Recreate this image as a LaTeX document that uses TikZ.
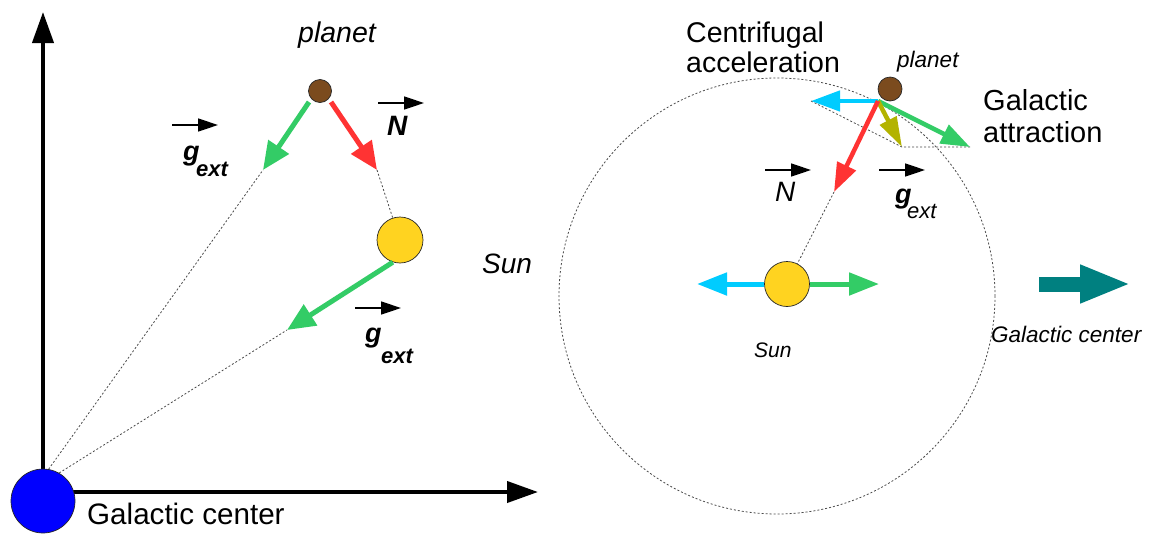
\documentclass[tikz,border=0pt]{standalone}
\usepackage{fontspec}
\setmainfont{Liberation Sans}
\usetikzlibrary{arrows.meta}
\definecolor{cgreen}{HTML}{33CC66}
\definecolor{cred}{HTML}{FF3333}
\definecolor{ccyan}{HTML}{00CCFF}
\definecolor{colive}{HTML}{B3B300}
\definecolor{cbrown}{HTML}{7B4B1E}
\definecolor{csun}{HTML}{FFD320}
\definecolor{cteal}{HTML}{008080}
\newcommand\setfs[1]{\fontsize{#1}{#1}\selectfont}
\begin{document}
\begin{tikzpicture}[x=1pt,y=-1pt,
  fat/.style={line width=5pt,-{Triangle[length=28pt,width=24pt]}},
  fatr/.style={line width=4.5pt,-{Triangle[length=29pt,width=20pt]}},
  axis/.style={line width=4pt,-{Triangle[length=31pt,width=21pt]}},
  vec/.style={line width=1.5pt,-{Triangle[length=20pt,width=13pt]}},
  guide/.style={draw=black!70,line width=0.8pt,dash pattern=on 2pt off 2pt},
  ball/.style={circle,draw=black!85,line width=0.7pt,inner sep=0pt},
  lbl/.style={inner sep=0pt,anchor=base west}]
\useasboundingbox (0,0) rectangle (1155,536);
\fill[white] (0,0) rectangle (1155,536);

% ---------------- left panel ----------------
\coordinate (ax0) at (43,492);
\coordinate (yt) at (43,12);
\coordinate (xt) at (538,492);
\draw[axis] (ax0) -- (yt);
\draw[axis] (ax0) -- (xt);
\node[ball,fill=blue,minimum size=64pt] (gc) at (43,501) {};
\node[ball,fill=cbrown,minimum size=23pt] (lp) at (320,91) {};
\node[ball,fill=csun,minimum size=46pt] (ls) at (400,240) {};

\coordinate (lgs) at (309,102);
\coordinate (lgt) at (263,170);
\coordinate (lrs) at (331,102);
\coordinate (lrt) at (377,170);
\coordinate (lst) at (287,330);

\draw[guide] (gc.80) -- (lgt);
\draw[guide] (gc.60) -- (lst);
\draw[guide] (lrt) -- (ls);

\draw[fat,draw=cgreen,fill=cgreen] (lgs) -- (lgt);
\draw[fat,draw=cred,fill=cred] (lrs) -- (lrt);
\draw[fat,draw=cgreen,fill=cgreen] (ls.252) -- (lst);

\node[lbl,font=\setfs{28.5}\itshape] (lplanet) at (298,42) {planet};
\node[lbl,font=\setfs{29.6}] (gctext) at (87,524) {Galactic center};
\node[lbl,font=\setfs{28}\itshape] (lsun) at (482,273) {Sun};

\coordinate (va1) at (172,125); \coordinate (vb1) at (218,125);
\draw[vec] (va1) -- (vb1);
\node[lbl,font=\setfs{27}\bfseries\itshape] (g1) at (183,160) {g};
\node[lbl,font=\setfs{22}\bfseries\itshape] (e1) at (196,176) {ext};

\coordinate (va2) at (378,103); \coordinate (vb2) at (424,103);
\draw[vec] (va2) -- (vb2);
\node[lbl,font=\setfs{28}\bfseries\itshape] (n1) at (387,135) {N};

\coordinate (va3) at (355,308); \coordinate (vb3) at (401,308);
\draw[vec] (va3) -- (vb3);
\node[lbl,font=\setfs{27}\bfseries\itshape] (g2) at (365,342) {g};
\node[lbl,font=\setfs{22}\bfseries\itshape] (e2) at (381,363) {ext};

% ---------------- right panel ----------------
\node[circle,guide,minimum size=436pt,inner sep=0pt] (orbit) at (777,296) {};
\node[ball,fill=csun,minimum size=45pt] (rs) at (787,284) {};
\node[ball,fill=cbrown,minimum size=24pt] (rp) at (890,89) {};

\coordinate (p0) at (878,101);
\coordinate (rct) at (811,101);
\coordinate (rgt) at (970,147);
\coordinate (rot) at (902,147);
\coordinate (rrt) at (834,192);
\coordinate (rsc) at (697,284);
\coordinate (rsg) at (879,284);
\coordinate (ta) at (1039,284);
\coordinate (tb) at (1131,284);

\draw[guide] (rct) -- (rot) -- (rgt);
\draw[guide] (rrt) -- (rs);

\draw[fatr,draw=ccyan,fill=ccyan] (p0) -- (rct);
\draw[fatr,draw=cgreen,fill=cgreen] (p0) -- (rgt);
\draw[line width=4.5pt,draw=colive,fill=colive,-{Triangle[length=30pt,width=18pt]}] (p0) -- (rot);
\draw[fatr,draw=cred,fill=cred] (p0) -- (rrt);

\draw[line width=5pt,draw=ccyan,fill=ccyan,-{Triangle[length=30pt,width=22pt]}] (rs) -- (rsc);
\draw[line width=5pt,draw=cgreen,fill=cgreen,-{Triangle[length=30pt,width=22pt]}] (rs) -- (rsg);
\draw[line width=15pt,draw=cteal,fill=cteal,-{Triangle[length=51pt,width=35pt]}] (ta) -- (tb);

\node[lbl,font=\setfs{28.5}] (cf1) at (686,42) {Centrifugal};
\node[lbl,font=\setfs{28.5}] (cf2) at (686,72) {acceleration};
\node[lbl,font=\setfs{29}] (ga1) at (983,110) {Galactic};
\node[lbl,font=\setfs{29}] (ga2) at (983,142) {attraction};
\node[lbl,font=\setfs{22.5}\itshape] (rplanet) at (897,67) {planet};
\node[lbl,font=\setfs{21}\itshape] (rsun) at (754,357) {Sun};
\node[lbl,font=\setfs{22.5}\itshape] (rgc) at (991,342) {Galactic center};

\coordinate (va4) at (765,170); \coordinate (vb4) at (811,170);
\draw[vec] (va4) -- (vb4);
\node[lbl,font=\setfs{28}\itshape] (n2) at (775,201) {N};

\coordinate (va5) at (879,170); \coordinate (vb5) at (925,170);
\draw[vec] (va5) -- (vb5);
\node[lbl,font=\setfs{27}\bfseries\itshape] (g3) at (895,203) {g};
\node[lbl,font=\setfs{22}\itshape] (e3) at (907,218) {ext};
\end{tikzpicture}
\end{document}
